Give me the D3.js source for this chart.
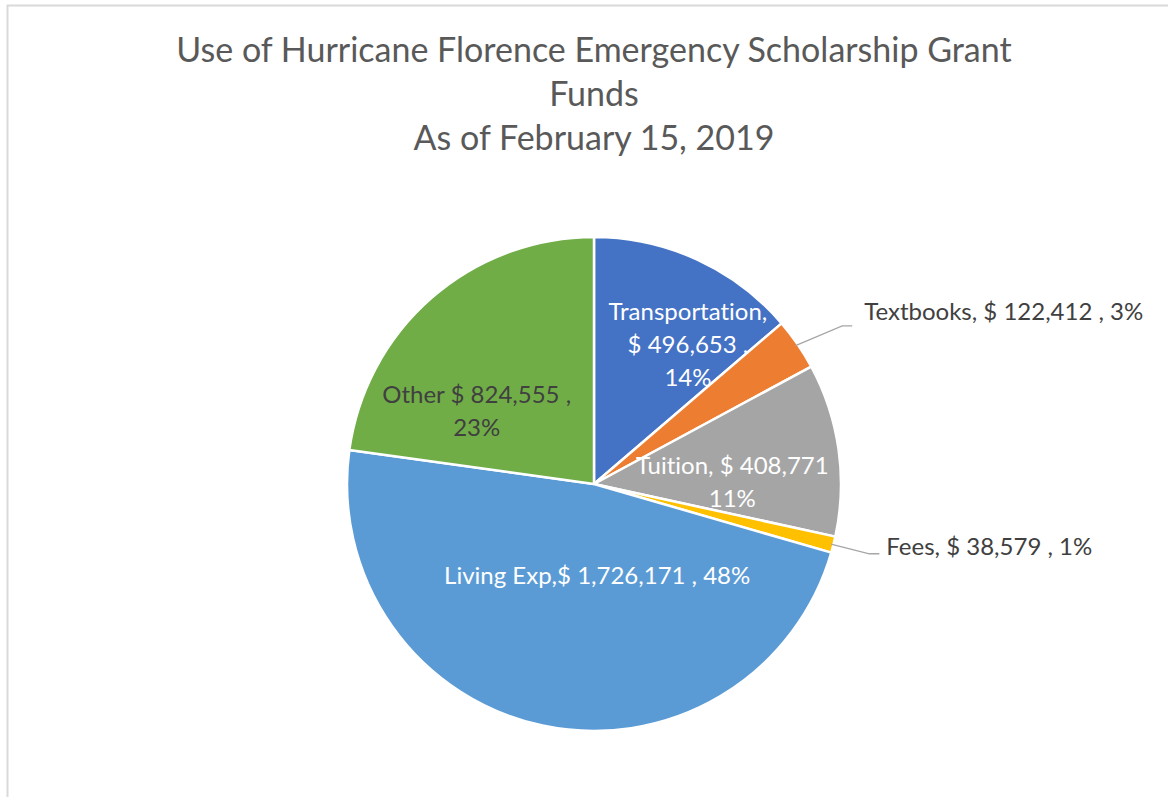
<!DOCTYPE html>
<html>
<head>
<meta charset="utf-8">
<script src="https://cdn.jsdelivr.net/npm/d3@7"></script>
<style>
  body { margin: 0; background: #fff; }
  svg text { font-family: Lato, "Open Sans", sans-serif; font-variant-ligatures: none; }
</style>
</head>
<body>
<script>
const categories = ['Transportation', 'Textbooks', 'Tuition', 'Fees', 'Living Exp', 'Other']
const values = [496653, 122412, 408771, 38579, 1726171, 824555]
const colors = ['#4472C4', '#ED7D31', '#A5A5A5', '#FFC000', '#5B9BD5', '#70AD47']
const titleLines = ['Use of Hurricane Florence Emergency Scholarship Grant', 'Funds', 'As of February 15, 2019']
// label text, {v} = value, {p} = percent
const labelLines = [
  ['Transportation,', '$ {v} ,', '{p}'],
  ['Textbooks, $ {v} , {p}'],
  ['Tuition, $ {v}', '{p}'],
  ['Fees, $ {v} , {p}'],
  ['Living Exp,$ {v} , {p}'],
  ['Other $ {v} ,', '{p}']
]

const width = 1168
const height = 797
const cx = 594
const cy = 484
const radius = 247

// where each label sits: inside (fraction of radius, angle in degrees) or outside with leader
const labelLayout = {
  Transportation: { r: 0.68, a: 34, fill: '#fff' },
  Textbooks: { outside: true, r: 1.16, dx: 12, dy: 4, tx: 12, ty: -14 },
  Tuition: { r: 0.56, a: 89, fill: '#fff' },
  Fees: { outside: true, r: 1.15, dx: 0, dy: 0, tx: 7, ty: -7 },
  'Living Exp': { r: 0.37, a: 178, fill: '#fff' },
  Other: { r: 0.56, a: 302, fill: '#404040' }
}

const data = categories.map((c, i) => ({ name: c, value: values[i], color: colors[i], lines: labelLines[i] }))
const total = d3.sum(values)
const fmtV = d3.format(',')
const fmtP = d3.format('.0%')

const svg = d3.select('body')
  .append('svg')
  .attr('width', width)
  .attr('height', height)

// chart area border (left + top visible)
svg.append('path')
  .attr('d', `M7.5,${height} V5.5 H${width}`)
  .attr('fill', 'none')
  .attr('stroke', '#d9d9d9')
  .attr('stroke-width', 2)

svg.append('g')
  .selectAll('text')
  .data(titleLines)
  .enter()
  .append('text')
  .attr('x', cx)
  .attr('y', (d, i) => 62 + i * 44)
  .attr('text-anchor', 'middle')
  .attr('font-size', 34)
  .attr('fill', '#595959')
  .text(d => d)

const pie = d3.pie().sort(null).value(d => d.value)
const arc = d3.arc().innerRadius(0).outerRadius(radius)
const arcs = pie(data)

const g = svg.append('g').attr('transform', `translate(${cx},${cy})`)

g.selectAll('path')
  .data(arcs)
  .enter()
  .append('path')
  .attr('d', arc)
  .attr('fill', d => d.data.color)
  .attr('stroke', '#fff')
  .attr('stroke-width', 2.5)
  .attr('stroke-linejoin', 'round')

const fillText = (s, d) => s.replace('{v}', fmtV(d.value)).replace('{p}', fmtP(d.value / total))
const polar = (r, a) => [r * Math.sin(a), -r * Math.cos(a)]

const lineH = 33
const fontSize = 24

arcs.forEach(d => {
  const lay = labelLayout[d.data.name]
  const mid = (d.startAngle + d.endAngle) / 2
  if (lay.outside) {
    const p0 = polar(radius * 0.99, mid)
    const e = polar(radius * lay.r, mid)
    const p1 = [e[0] + lay.dx, e[1] + lay.dy]
    const p2 = [p1[0] + 10, p1[1]]
    g.append('polyline')
      .attr('points', [p0, p1, p2].map(p => p.join(',')).join(' '))
      .attr('fill', 'none')
      .attr('stroke', '#a6a6a6')
      .attr('stroke-width', 1.3)
    g.append('text')
      .attr('x', p2[0] + lay.tx)
      .attr('y', p2[1] + lay.ty)
      .attr('dy', '0.35em')
      .attr('font-size', fontSize)
      .attr('fill', '#404040')
      .text(fillText(d.data.lines[0], d.data))
  } else {
    const p = polar(radius * lay.r, lay.a * Math.PI / 180)
    const n = d.data.lines.length
    g.append('text')
      .attr('text-anchor', 'middle')
      .attr('font-size', fontSize)
      .attr('fill', lay.fill)
      .selectAll('tspan')
      .data(d.data.lines)
      .enter()
      .append('tspan')
      .attr('x', p[0])
      .attr('y', (s, i) => p[1] + (i - (n - 1) / 2) * lineH)
      .attr('dy', '0.35em')
      .text(s => fillText(s, d.data))
  }
})
</script>
</body>
</html>
